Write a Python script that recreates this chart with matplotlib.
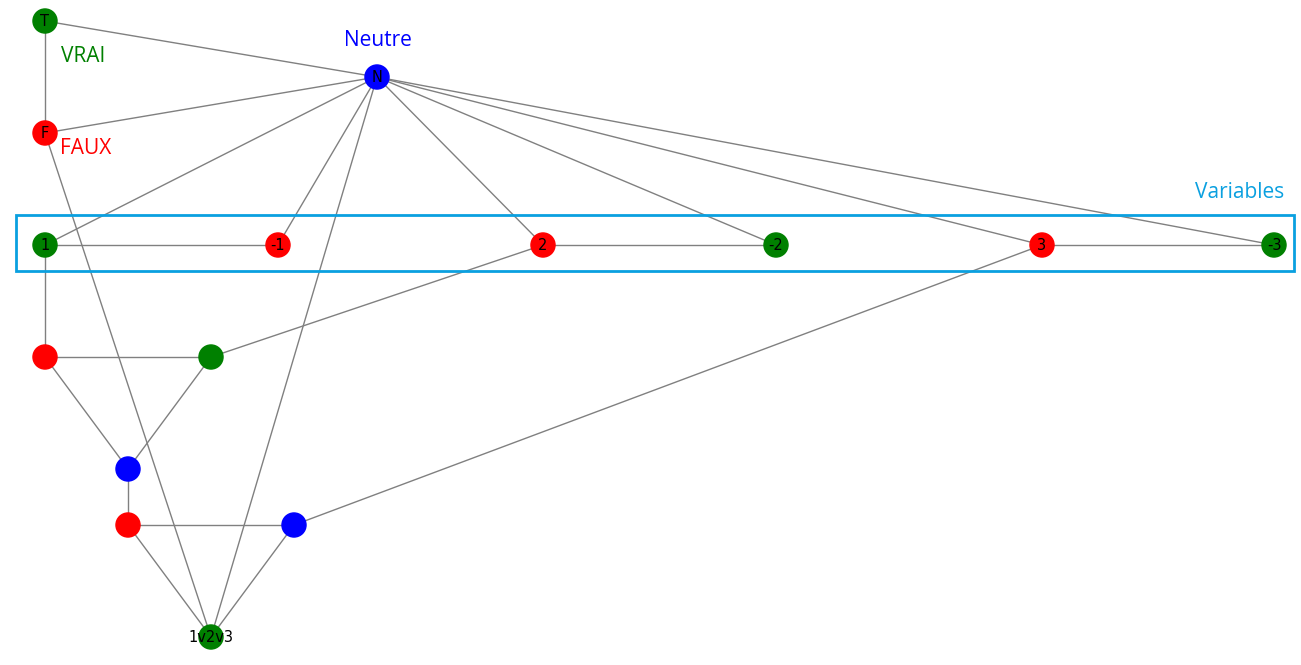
import matplotlib
matplotlib.use("Agg")
import matplotlib.pyplot as plt
from matplotlib.patches import Rectangle

# node name, x, y (pixel layout), colour, label
names = ["T", "N", "F", "1", "-1", "2", "-2", "3", "-3", "a", "b", "c", "d", "e", "out"]
xs = [45, 377, 45, 45, 278, 543, 776, 1042, 1274, 45, 211, 128, 128, 294, 211]
ys = [21, 77, 133, 245, 245, 245, 245, 245, 245, 357, 357, 469, 525, 525, 637]
colors = ["green", "blue", "red", "green", "red", "red", "green", "red", "green",
          "red", "green", "blue", "red", "blue", "green"]
labels = ["T", "N", "F", "1", "-1", "2", "-2", "3", "-3", "", "", "", "", "", "1v2v3"]
edges = [("T", "F"), ("T", "N"), ("F", "N"), ("N", "1"), ("N", "-1"), ("N", "2"),
         ("N", "-2"), ("N", "3"), ("N", "-3"), ("N", "out"), ("F", "out"),
         ("1", "-1"), ("2", "-2"), ("3", "-3"), ("1", "a"), ("a", "b"), ("b", "2"),
         ("a", "c"), ("b", "c"), ("c", "d"), ("d", "e"), ("e", "3"), ("d", "out"),
         ("e", "out")]

pos = {n: (x, y) for n, x, y in zip(names, xs, ys)}

fig = plt.figure(figsize=(13.01, 6.65), dpi=100)
ax = fig.add_axes([0, 0, 1, 1])
ax.set_xlim(0, 1301)
ax.set_ylim(665, 0)
ax.axis("off")

for u, v in edges:
    ax.plot([pos[u][0], pos[v][0]], [pos[u][1], pos[v][1]], color="gray", lw=1, zorder=1)
ax.scatter(xs, ys, s=300, c=colors, zorder=2)
for x, y, t in zip(xs, ys, labels):
    ax.text(x, y, t, ha="center", va="center", fontsize=10.5, zorder=3)

ax.add_patch(Rectangle((16, 215), 1278, 56, fill=False, edgecolor="#0aa0e0", lw=2))
ax.text(378, 40, "Neutre", color="blue", fontsize=15, ha="center", va="center", family="Open Sans")
ax.text(61, 57, "VRAI", color="green", fontsize=15, ha="left", va="center", family="Open Sans")
ax.text(60, 148, "FAUX", color="red", fontsize=15, ha="left", va="center", family="Open Sans")
ax.text(1284, 192, "Variables", color="#0aa0e0", fontsize=15, ha="right", va="center", family="Open Sans")

fig.savefig("out.png", dpi=100)
